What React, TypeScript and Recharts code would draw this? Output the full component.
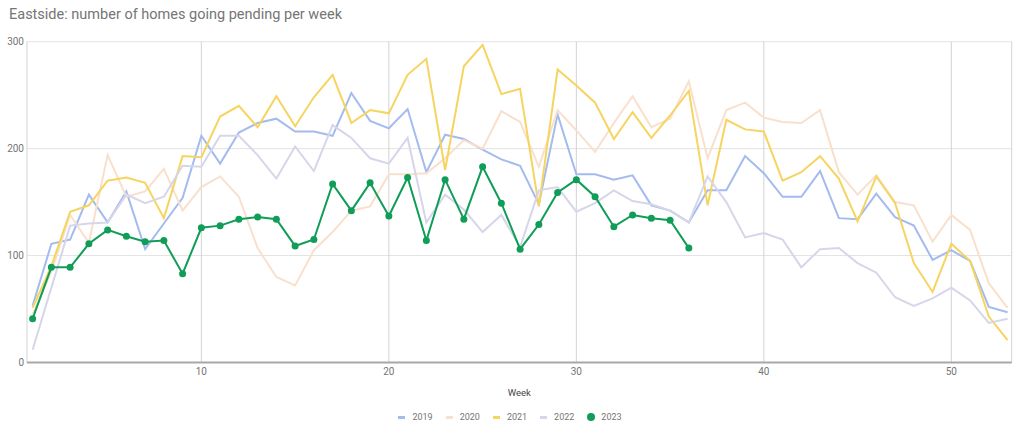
import React from "react";
import {
  LineChart,
  Line,
  XAxis,
  YAxis,
  CartesianGrid,
  Legend,
} from "recharts";

const weeks = [
  1, 2, 3, 4, 5, 6, 7, 8, 9, 10, 11, 12, 13, 14, 15, 16, 17, 18, 19, 20, 21, 22, 23, 24, 25, 26, 27,
  28, 29, 30, 31, 32, 33, 34, 35, 36, 37, 38, 39, 40, 41, 42, 43, 44, 45, 46, 47, 48, 49, 50, 51, 52, 53,
];

const y2019 = [
  53, 111, 115, 157, 131, 160, 106, 130, 154, 212, 186, 215, 224, 228, 216, 216, 212, 252, 226, 219,
  237, 178, 213, 209, 199, 190, 184, 148, 232, 176, 176, 171, 175, 147, 142, 131, 161, 161, 193, 177,
  155, 155, 179, 135, 134, 158, 136, 128, 96, 105, 95, 52, 47,
];

const y2020 = [
  45, 85, 138, 112, 194, 155, 160, 181, 142, 164, 174, 155, 107, 80, 72, 105, 122, 142, 146, 176,
  176, 177, 191, 208, 200, 235, 225, 183, 236, 217, 197, 224, 249, 220, 228, 263, 191, 236, 243, 229,
  225, 224, 236, 178, 157, 175, 150, 147, 113, 138, 124, 74, 51,
];

const y2021 = [
  51, 90, 141, 147, 170, 173, 168, 135, 193, 192, 230, 240, 220, 249, 221, 248, 269, 224, 236, 233,
  269, 284, 180, 277, 297, 251, 256, 146, 274, 259, 243, 209, 234, 210, 231, 254, 147, 227, 218, 216,
  170, 178, 193, 172, 132, 174, 149, 93, 66, 111, 95, 43, 21,
];

const y2022 = [
  12, 70, 128, 130, 131, 157, 149, 155, 184, 183, 212, 212, 194, 172, 202, 179, 222, 210, 191, 186,
  210, 131, 157, 143, 122, 138, 108, 161, 164, 141, 149, 161, 151, 148, 142, 131, 174, 150, 117, 121,
  115, 89, 106, 107, 93, 84, 61, 53, 60, 70, 58, 37, 41,
];

const y2023 = [
  41, 89, 89, 111, 124, 118, 113, 114, 83, 126, 128, 134, 136, 134, 109, 115, 167, 142, 168, 137,
  173, 114, 171, 134, 183, 149, 106, 129, 159, 171, 155, 127, 138, 135, 133, 107,
];

const xTicks = [10, 20, 30, 40, 50];
const yTicks = [0, 100, 200, 300];

const data = weeks.map((w, i) => ({
  week: w,
  y2019: y2019[i],
  y2020: y2020[i],
  y2021: y2021[i],
  y2022: y2022[i],
  y2023: i < y2023.length ? y2023[i] : null,
}));

const FONT = "Roboto, 'Noto Sans', sans-serif";
const GRAY = "#757575";

const renderLegend = (props: any) => {
  const { payload } = props;
  return (
    <div
      style={{
        display: "flex",
        justifyContent: "center",
        alignItems: "center",
        height: 14,
        fontFamily: FONT,
        fontSize: 9,
        color: GRAY,
      }}
    >
      {payload.map((entry: any, i: number) => (
        <div
          key={entry.value}
          style={{ display: "flex", alignItems: "center", marginRight: i === payload.length - 1 ? 0 : 13 }}
        >
          {entry.value === "2023" ? (
            <span
              style={{ width: 8, height: 8, borderRadius: 4, background: entry.color, marginRight: 6 }}
            />
          ) : (
            <span style={{ width: 7, height: 3, background: entry.color, marginRight: 7 }} />
          )}
          <span>{entry.value}</span>
        </div>
      ))}
    </div>
  );
};

export default function App() {
  return (
    <div style={{ position: "absolute", left: 0, top: 0, width: 1024, height: 434, background: "#fff" }}>
      <div
        style={{
          position: "absolute",
          left: 9,
          top: 7,
          fontFamily: FONT,
          fontSize: 14.5,
          lineHeight: "16px",
          color: GRAY,
          whiteSpace: "nowrap",
        }}
      >
        Eastside: number of homes going pending per week
      </div>
      <LineChart
        width={1024}
        height={434}
        data={data}
        margin={{ top: 41.7, right: 12.3, left: 0, bottom: 10.5 }}
      >
        {/* horizontal grid */}
        <CartesianGrid vertical={false} stroke="#e3e3e3" />
        {/* vertical grid at week ticks */}
        <CartesianGrid horizontal={false} stroke="#d3d3d3" />
        <XAxis
          dataKey="week"
          type="number"
          domain={[0.7, 53.22]}
          allowDataOverflow
          ticks={xTicks}
          height={61}
          tickLine={false}
          tickSize={0}
          tickMargin={5}
          axisLine={{ stroke: "#a8a8a8", strokeWidth: 2 }}
          tick={{ fill: GRAY, fontSize: 10, fontFamily: FONT }}
          label={{ value: "Week", position: "center", fill: "#444", fontSize: 9.5, fontFamily: FONT }}
        />
        <YAxis
          width={27}
          domain={[0, 300]}
          ticks={yTicks}
          axisLine={false}
          tickLine={false}
          tickSize={0}
          tickMargin={3}
          tick={{ fill: GRAY, fontSize: 10, fontFamily: FONT }}
        />
        <Legend
          verticalAlign="middle"
          align="center"
          layout="horizontal"
          content={renderLegend}
          wrapperStyle={{ top: 410, left: -2, width: 1024, height: 14 }}
        />
        <Line dataKey="y2019" name="2019" stroke="#a3bbee" strokeWidth={2} dot={false} isAnimationActive={false} />
        <Line dataKey="y2020" name="2020" stroke="#f9e0cc" strokeWidth={2} dot={false} isAnimationActive={false} />
        <Line dataKey="y2021" name="2021" stroke="#f6d460" strokeWidth={2} dot={false} isAnimationActive={false} />
        <Line dataKey="y2022" name="2022" stroke="#d6d6ea" strokeWidth={2} dot={false} isAnimationActive={false} />
        <Line
          dataKey="y2023"
          name="2023"
          stroke="#0f9d58"
          strokeWidth={2}
          dot={{ r: 3.5, fill: "#0f9d58", stroke: "#0f9d58", strokeWidth: 0 }}
          activeDot={false}
          isAnimationActive={false}
        />
      </LineChart>
    </div>
  );
}
